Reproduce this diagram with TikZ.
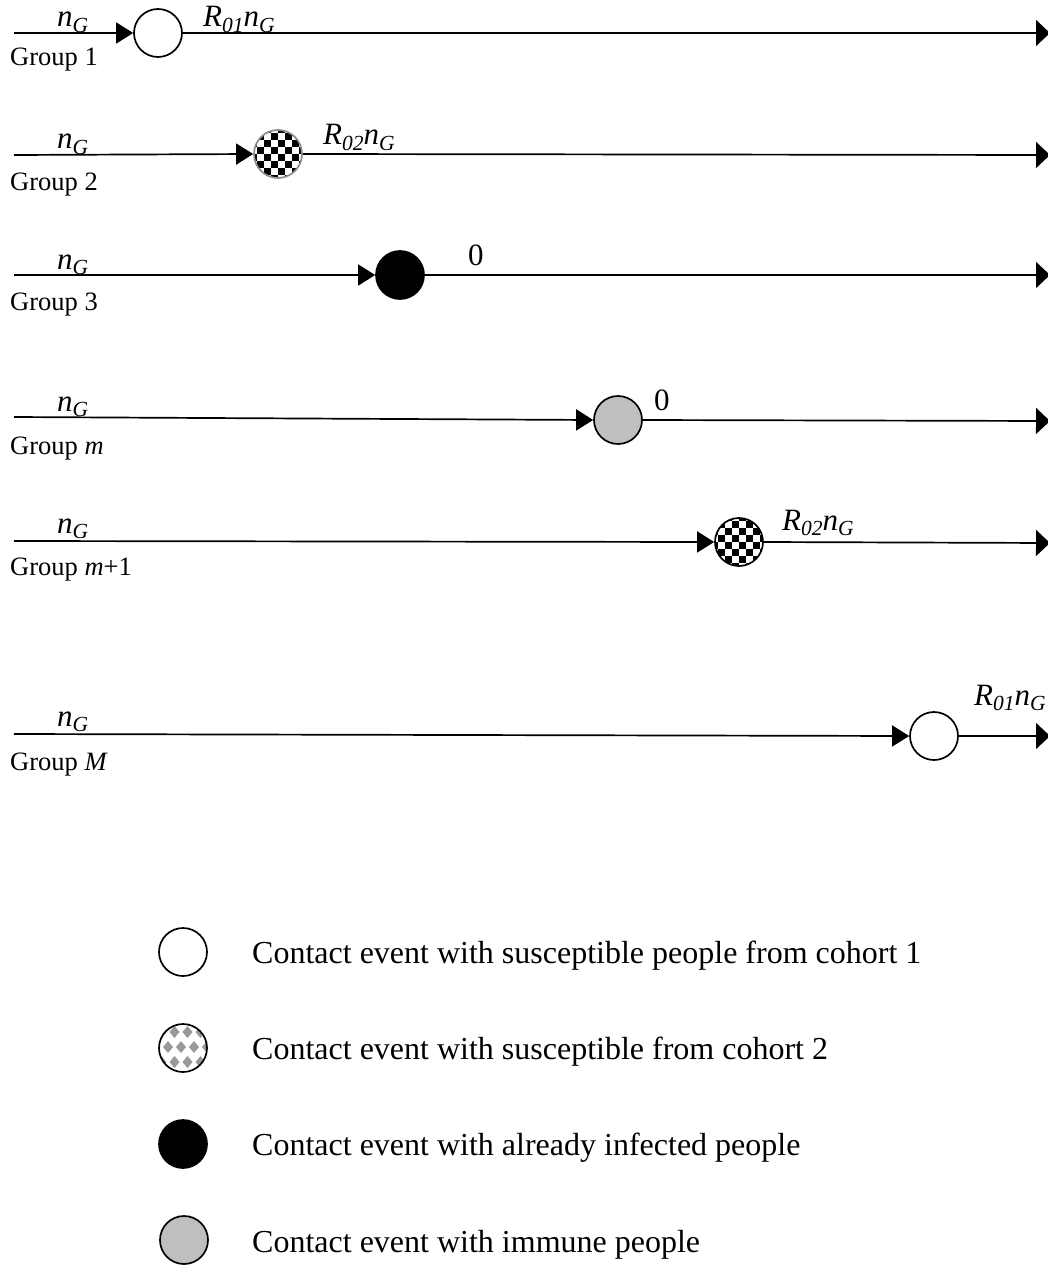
\documentclass[tikz,border=0pt]{standalone}
\usepackage{fontspec}
\setmainfont{Liberation Serif}
\usetikzlibrary{arrows.meta}
\newcommand\sbs[1]{\raisebox{-5.5pt}{\fontsize{21.5}{22}\selectfont #1}}
\begin{document}
\begin{tikzpicture}[x=1pt,y=-1pt,
  line/.style={line width=1.7pt},
  inarrow/.style={-{Triangle[length=17pt,width=21pt]}},
  outarrow/.style={-{Triangle[length=14pt,width=26pt]}},
  ev/.style={circle,draw,line width=1.7pt,minimum size=48pt,inner sep=0pt},
  sus1/.style={ev,fill=white},
  sus2/.style={ev,draw=black!45,fill=white,path picture={
    \begin{scope}[shift={(path picture bounding box.center)}]
    \foreach \i in {-4,...,3}{\foreach \j in {-4,...,3}{%
      \pgfmathtruncatemacro\kk{mod(\i+\j+8,2)}%
      \ifnum\kk=0 \fill[black] (\i*7,\j*7) rectangle ++(7,7);\fi}}
    \end{scope}}},
  legsus2/.style={ev,fill=white,path picture={
    \begin{scope}[shift={(path picture bounding box.center)}]
    \foreach \a in {-3,...,3}{\foreach \b in {-2,...,2}{%
      \pgfmathsetmacro\xx{-2+13*\a+6.5*mod(\b+8,2)}%
      \fill[black!40] (\xx,-1+15*\b) +(-5,0) -- +(0,-6) -- +(5,0) -- +(0,6) -- cycle;}}
    \end{scope}}},
  inf/.style={ev,fill=black},
  imm/.style={ev,fill=black!25},
  lbl/.style={font=\fontsize{26.5}{30}\selectfont, anchor=base west, inner sep=0pt},
  mlab/.style={font=\fontsize{31}{36}\selectfont\itshape, anchor=base west, inner sep=0pt},
  num/.style={font=\fontsize{31}{36}\selectfont, anchor=base west, inner sep=0pt},
  leg/.style={font=\fontsize{32}{38}\selectfont, anchor=base west, inner sep=0pt}
]
\clip (0,0) rectangle (1048,1268);
\fill[white] (0,0) rectangle (1048,1268);

% Group 1
\coordinate (s1) at (14,33);
\coordinate (e1) at (1050,33);
\node[sus1] (c1) at (158,33) {};
\draw[line,inarrow] (s1) -- (c1.west);
\draw[line,outarrow] (c1.east) -- (e1);
\node[mlab] (n1) at (57,27) {n\sbs{G}};
\node[lbl] (g1) at (10,66) {Group 1};
\node[mlab] (r1) at (203,27) {R\sbs{01}n\sbs{G}};

% Group 2
\coordinate (s2) at (14,155);
\coordinate (e2) at (1050,155);
\node[sus2] (c2) at (278,154) {};
\draw[line,inarrow] (s2) -- (c2.west);
\draw[line,outarrow] (c2.east) -- (e2);
\node[mlab] (n2) at (57,149) {n\sbs{G}};
\node[lbl] (g2) at (10,191) {Group 2};
\node[mlab] (r2) at (323,145) {R\sbs{02}n\sbs{G}};

% Group 3
\coordinate (s3) at (14,275);
\coordinate (e3) at (1050,275);
\node[inf] (c3) at (400,275) {};
\draw[line,inarrow] (s3) -- (c3.west);
\draw[line,outarrow] (c3.east) -- (e3);
\node[mlab] (n3) at (57,269) {n\sbs{G}};
\node[lbl] (g3) at (10,310) {Group 3};
\node[num] (r3) at (468,265) {0};

% Group m
\coordinate (s4) at (14,417);
\coordinate (e4) at (1050,421);
\node[imm] (c4) at (618,420) {};
\draw[line,inarrow] (s4) -- (c4.west);
\draw[line,outarrow] (c4.east) -- (e4);
\node[mlab] (n4) at (57,411) {n\sbs{G}};
\node[lbl] (g4) at (10,454) {Group \textit{m}};
\node[num] (r4) at (654,410) {0};

% Group m+1
\coordinate (s5) at (14,541);
\coordinate (e5) at (1050,543);
\node[sus2,draw=black] (c5) at (739,542) {};
\draw[line,inarrow] (s5) -- (c5.west);
\draw[line,outarrow] (c5.east) -- (e5);
\node[mlab] (n5) at (57,533) {n\sbs{G}};
\node[lbl] (g5) at (10,575) {Group \textit{m}+1};
\node[mlab] (r5) at (782,530) {R\sbs{02}n\sbs{G}};

% Group M
\coordinate (s6) at (14,734);
\coordinate (e6) at (1050,736);
\node[sus1] (c6) at (934,736) {};
\draw[line,inarrow] (s6) -- (c6.west);
\draw[line,outarrow] (c6.east) -- (e6);
\node[mlab] (n6) at (57,726) {n\sbs{G}};
\node[lbl] (g6) at (10,770) {Group \textit{M}};
\node[mlab] (r6) at (974,705) {R\sbs{01}n\sbs{G}};

% Legend
\node[sus1] (l1) at (183,952) {};
\node[leg] (t1) at (252,963) {Contact event with susceptible people from cohort 1};
\node[legsus2] (l2) at (183,1048) {};
\node[leg] (t2) at (252,1059) {Contact event with susceptible from cohort 2};
\node[inf] (l3) at (183,1144) {};
\node[leg] (t3) at (252,1155) {Contact event with already infected people};
\node[imm] (l4) at (184,1240) {};
\node[leg] (t4) at (252,1252) {Contact event with immune people};
\end{tikzpicture}
\end{document}
